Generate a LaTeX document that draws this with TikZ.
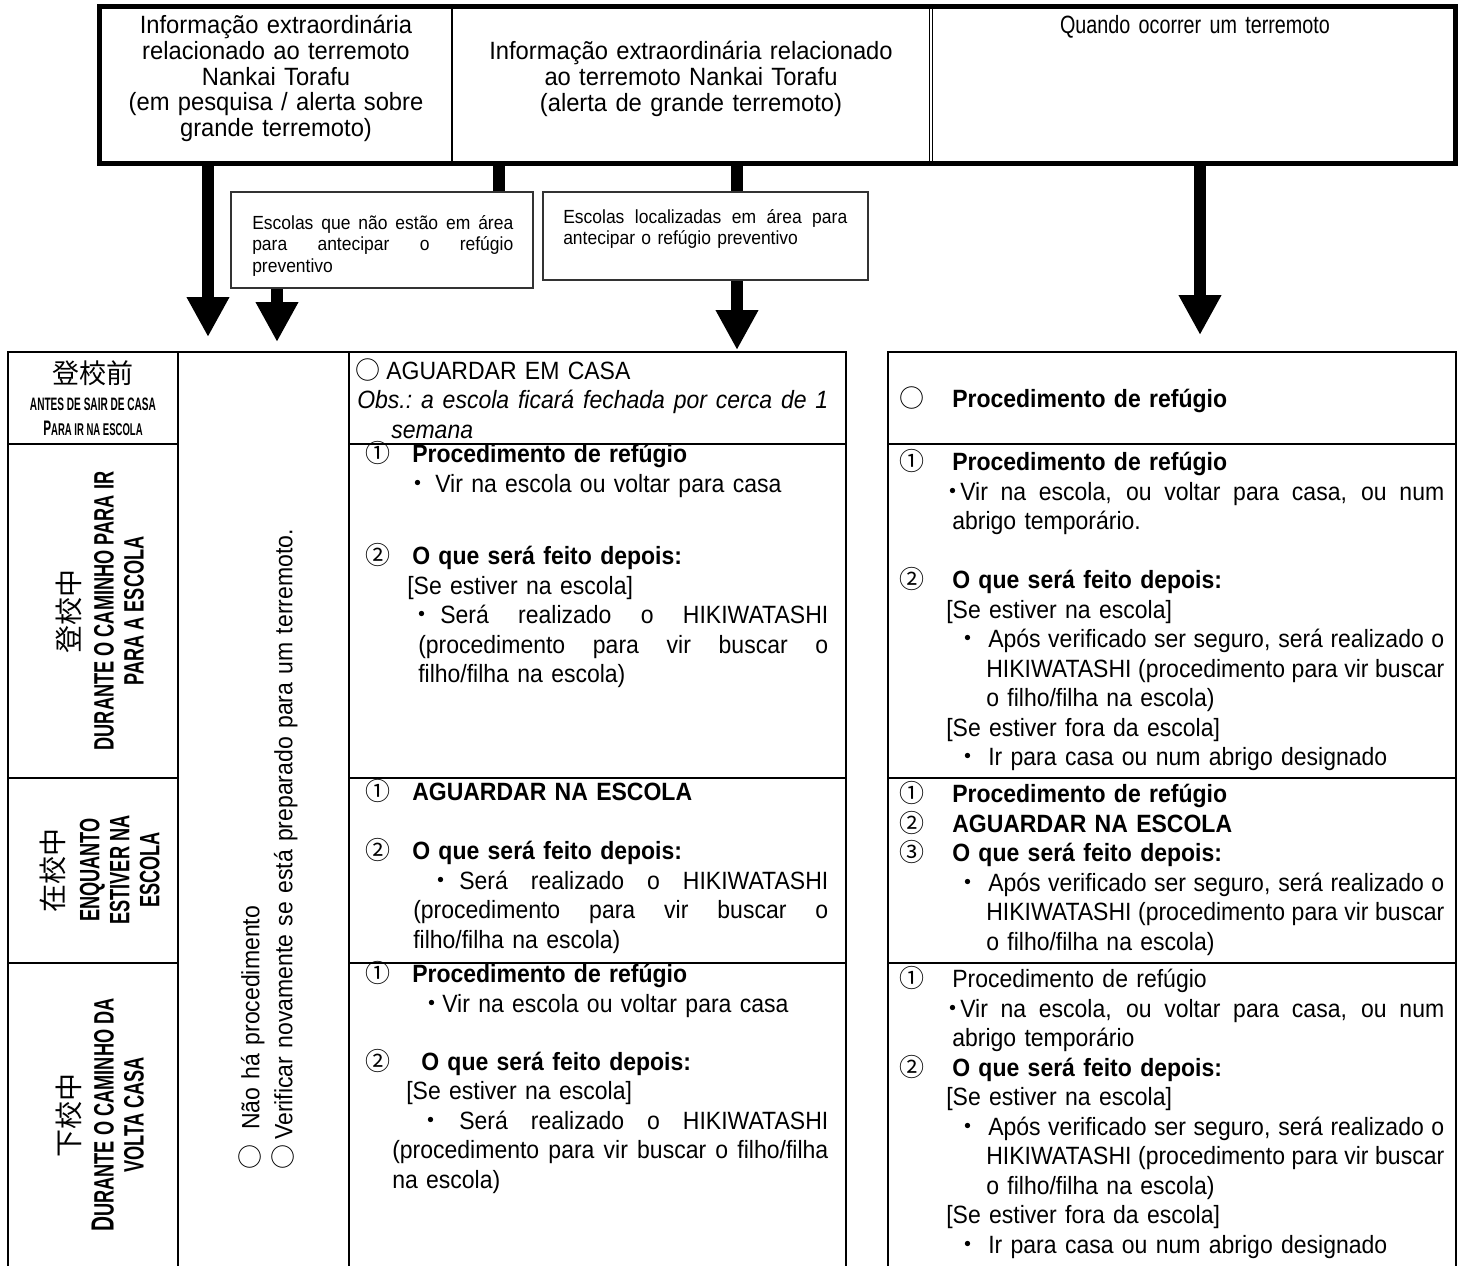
\documentclass[tikz,border=0pt]{standalone}
\usepackage{fontspec}
\setmainfont[FakeStretch=0.92]{Liberation Sans}
\newfontfamily\hdrfont[FakeStretch=0.95]{Liberation Sans}
\newfontfamily\hdrnarrow[FakeStretch=0.79]{Liberation Sans}
\newfontfamily\lblfont[FakeStretch=0.65]{Liberation Sans}
\newfontfamily\capfont[FakeStretch=0.56]{Liberation Sans}
\newfontfamily\cjk{Noto Sans CJK JP}
\usetikzlibrary{arrows.meta}
\usetikzlibrary{fit}
\usetikzlibrary{positioning}

\newlength\pxu
\setlength\pxu{0.75pt}
\setlength\parskip{0pt}
\setlength\parindent{0pt}

\newcommand\bodyfont{\fontsize{18.75pt}{22.125pt}\selectfont\lineskiplimit=-100pt\relax}
\newcommand\notefont{\fontsize{18.75pt}{24.75pt}\selectfont\lineskiplimit=-100pt\relax}
\newcommand\boxfont{\fontsize{14.25pt}{16.125pt}\selectfont\lineskiplimit=-100pt\relax}
\newcommand\hdrsize{\hdrfont\fontsize{18.75pt}{19.3pt}\selectfont\lineskiplimit=-100pt\relax}
\newcommand\lblsize{\lblfont\bfseries\fontsize{21pt}{22.5pt}\selectfont}
\newcommand\capsize{\capfont\bfseries\fontsize{13.5pt}{18.75pt}\selectfont}
% one line: ragged, centred, or stretched to the full width
\newcommand\lnL[2]{\noindent\hspace*{#1\pxu}{#2}\strut\par}
\newcommand\lnC[1]{\noindent\makebox[\hsize][c]{#1\strut}\par}
\newcommand\lnJ[2]{\noindent\hspace*{#1\pxu}\makebox[\dimexpr\hsize-#1\pxu\relax][s]{\spaceskip=\fontdimen2\font plus 1fil\xspaceskip=\spaceskip #2\strut}\par}
\newcommand\mk[2]{\makebox[#1\pxu][l]{\cjk\mdseries #2}}
\newcommand\gap[1]{\vskip #1\pxu}

\begin{document}
\begin{tikzpicture}[x=0.75pt,y=0.75pt,yscale=-1,xscale=1,
  hdrcell/.style={draw, line width=1pt, inner sep=0pt},
  hdrframe/.style={draw, line width=3.75pt, inner sep=0pt},
  tcell/.style={draw, line width=1.5pt, inner sep=0pt},
  notebox/.style={draw=black!80, line width=1.2pt, inner sep=0pt},
  txt/.style={anchor=north west, inner sep=0pt, font=\bodyfont},
  hdrtxt/.style={anchor=north, inner sep=0pt, font=\hdrsize},
  rowlbl/.style={rotate=90, align=center, inner sep=0pt, font=\lblsize},
  bigarrow/.style={line width=9pt, -{Triangle[length=30pt,width=30pt]}},
  stub/.style={line width=9pt}]
\useasboundingbox (0,0) rectangle (1463,1265);

%Header cells
\node[hdrcell, fit={(100,7) (452,163)}] (hdrA) {};
\node[hdrcell, fit={(452,7) (930,163)}] (hdrB) {};
\node[hdrcell, fit={(930,7) (1455,163)}] (hdrC) {};
\draw[double, line width=0.8pt, double distance=1.5pt] (hdrB.north east) -- (hdrB.south east);
\node[hdrframe, fit=(hdrA) (hdrC)] (hdr) {};

% Text Node
\node[hdrtxt, text width=255pt] (hdrAt) at (276,15) {%
  \lnC{Informação extraordinária}%
  \lnC{relacionado ao terremoto}%
  \lnC{Nankai Torafu}%
  \lnC{(em pesquisa / alerta sobre}%
  \lnC{grande terremoto)}};
% Text Node
\node[hdrtxt, text width=330pt] (hdrBt) at (691,41) {%
  \lnC{Informação extraordinária relacionado}%
  \lnC{ao terremoto Nankai Torafu}%
  \lnC{(alerta de grande terremoto)}};
% Text Node
\node[hdrtxt, text width=360pt] (hdrCt) at (1195,15) {%
  \lnC{\hdrnarrow Quando ocorrer um terremoto}};

%Boxes for the kind of school
\node[notebox, fit={(231,192) (533,288)}] (boxA) {};
\node[notebox, fit={(543,192) (868,280)}] (boxB) {};
\node[txt, font=\boxfont, text width=195.75pt] (boxAt) at (252,214) {%
  \lnJ{0}{Escolas que não estão em área}%
  \lnJ{0}{para antecipar o refúgio}%
  \lnL{0}{preventivo}};
\node[txt, font=\boxfont, text width=213pt] (boxBt) at (563,208) {%
  \lnJ{0}{Escolas localizadas em área para}%
  \lnL{0}{antecipar o refúgio preventivo}};

%Arrows
\coordinate (tA) at (208,337);
\coordinate (tB) at (277,342);
\coordinate (tC) at (737,350);
\coordinate (tD) at (1200,335);
\coordinate (jA) at (499,0);
\draw[stub] (hdrB.south -| jA) -- (boxA.north -| jA);
\draw[stub] (hdrB.south -| tC) -- (boxB.north -| tC);
\draw[bigarrow] (hdrA.south -| tA) -- (tA);
\draw[bigarrow] (boxA.south -| tB) -- (tB);
\draw[bigarrow] (boxB.south -| tC) -- (tC);
\draw[bigarrow] (hdrC.south -| tD) -- (tD);

%Left table
\node[tcell, fit={(8,352) (178,444)}] (lab1) {};
\node[tcell, fit={(8,444) (178,778)}] (lab2) {};
\node[tcell, fit={(8,778) (178,963)}] (lab3) {};
\node[tcell, fit={(8,963) (178,1275)}] (lab4) {};
\node[tcell, fit={(178,352) (349,1275)}] (note) {};
\node[tcell, fit={(349,352) (846,444)}] (mid1) {};
\node[tcell, fit={(349,444) (846,778)}] (mid2) {};
\node[tcell, fit={(349,778) (846,963)}] (mid3) {};
\node[tcell, fit={(349,963) (846,1275)}] (mid4) {};
%Right table
\node[tcell, fit={(888,352) (1456,444)}] (rgt1) {};
\node[tcell, fit={(888,444) (1456,778)}] (rgt2) {};
\node[tcell, fit={(888,778) (1456,963)}] (rgt3) {};
\node[tcell, fit={(888,963) (1456,1275)}] (rgt4) {};

% Row labels
\node[align=center, inner sep=0pt, font=\capsize] (lab1t) at (93,398) {{\cjk\mdseries\fontsize{20.25pt}{24pt}\selectfont 登校前}\\[2pt]ANTES DE SAIR DE CASA\\{\fontsize{15.75pt}{18.75pt}\selectfont P}{\fontsize{12.75pt}{18.75pt}\selectfont ARA IR NA ESCOLA}};
\node[rowlbl] (lab2t) at (100,611) {{\cjk\mdseries 登校中}\\[3pt]DURANTE O CAMINHO PARA IR\\PARA A ESCOLA};
\node[rowlbl] (lab3t) at (100,870) {{\cjk\mdseries 在校中}\\[4pt]ENQUANTO\\ESTIVER NA\\ESCOLA};
\node[rowlbl] (lab4t) at (100,1115) {{\cjk\mdseries 下校中}\\[3pt]{\fontsize{24pt}{22.5pt}\selectfont D}URANTE O CAMINHO DA\\VOLTA CASA};

% Text Node
\node[txt, rotate=90, font=\notefont, text width=700pt] (notet) at (236,1170) {%
  \lnL{0}{\mk{40}{○}Não há procedimento}%
  \lnL{0}{\mk{30}{○}Verificar novamente se está preparado para um terremoto.}};

% Text Node
\node[txt, text width=359.25pt] (mid1t) at (349,358.4) {%
  \lnL{6}{\mk{31}{○}AGUARDAR EM CASA}%
  \lnJ{8}{\itshape Obs.: a escola ficará fechada por cerca de 1}%
  \lnL{42}{\itshape semana}};
% Text Node
\node[txt, text width=359.25pt] (mid2t) at (349,441.4) {%
  \lnL{16}{\mk{47}{①}\textbf{Procedimento de refúgio}}%
  \lnL{56}{\mk{30}{・}Vir na escola ou voltar para casa}%
  \gap{43}%
  \lnL{16}{\mk{47}{②}\textbf{O que será feito depois:}}%
  \lnL{58}{[Se estiver na escola]}%
  \lnJ{60}{\mk{31}{・}Será realizado o HIKIWATASHI}%
  \lnJ{69}{(procedimento para vir buscar o}%
  \lnL{69}{filho/filha na escola)}};
% Text Node
\node[txt, text width=359.25pt] (mid3t) at (349,779.4) {%
  \lnL{16}{\mk{47}{①}\textbf{AGUARDAR NA ESCOLA}}%
  \gap{29.5}%
  \lnL{16}{\mk{47}{②}\textbf{O que será feito depois:}}%
  \lnJ{79}{\mk{31}{・}Será realizado o HIKIWATASHI}%
  \lnJ{64}{(procedimento para vir buscar o}%
  \lnL{64}{filho/filha na escola)}};
% Text Node
\node[txt, text width=359.25pt] (mid4t) at (349,961.4) {%
  \lnL{16}{\mk{47}{①}\textbf{Procedimento de refúgio}}%
  \lnL{70}{\mk{23}{・}Vir na escola ou voltar para casa}%
  \gap{28.5}%
  \lnL{16}{\mk{56}{②}\textbf{O que será feito depois:}}%
  \lnL{57}{[Se estiver na escola]}%
  \lnJ{69}{\mk{41}{・}Será realizado o HIKIWATASHI}%
  \lnJ{43}{(procedimento para vir buscar o filho/filha}%
  \lnL{43}{na escola)}};

% Text Node
\node[txt, text width=417pt] (rgt1t) at (888,386.4) {%
  \lnL{11}{\mk{53}{○}\textbf{Procedimento de refúgio}}};
% Text Node
\node[txt, text width=417pt] (rgt2t) at (888,449.4) {%
  \lnL{11}{\mk{53}{①}\textbf{Procedimento de refúgio}}%
  \lnJ{52}{\mk{20}{・}Vir na escola, ou voltar para casa, ou num}%
  \lnL{64}{abrigo temporário.}%
  \gap{29.5}%
  \lnL{11}{\mk{53}{②}\textbf{O que será feito depois:}}%
  \lnL{58}{[Se estiver na escola]}%
  \lnJ{67}{\mk{33}{・}Após verificado ser seguro, será realizado o}%
  \lnJ{98}{HIKIWATASHI (procedimento para vir buscar}%
  \lnL{98}{o filho/filha na escola)}%
  \lnL{58}{[Se estiver fora da escola]}%
  \lnL{67}{\mk{33}{・}Ir para casa ou num abrigo designado}};
% Text Node
\node[txt, text width=417pt] (rgt3t) at (888,781.4) {%
  \lnL{11}{\mk{53}{①}\textbf{Procedimento de refúgio}}%
  \lnL{11}{\mk{53}{②}\textbf{AGUARDAR NA ESCOLA}}%
  \lnL{11}{\mk{53}{③}\textbf{O que será feito depois:}}%
  \lnJ{67}{\mk{33}{・}Após verificado ser seguro, será realizado o}%
  \lnJ{98}{HIKIWATASHI (procedimento para vir buscar}%
  \lnL{98}{o filho/filha na escola)}};
% Text Node
\node[txt, text width=417pt] (rgt4t) at (888,966.4) {%
  \lnL{11}{\mk{53}{①}Procedimento de refúgio}%
  \lnJ{52}{\mk{20}{・}Vir na escola, ou voltar para casa, ou num}%
  \lnL{64}{abrigo temporário}%
  \lnL{11}{\mk{53}{②}\textbf{O que será feito depois:}}%
  \lnL{58}{[Se estiver na escola]}%
  \lnJ{67}{\mk{33}{・}Após verificado ser seguro, será realizado o}%
  \lnJ{98}{HIKIWATASHI (procedimento para vir buscar}%
  \lnL{98}{o filho/filha na escola)}%
  \lnL{58}{[Se estiver fora da escola]}%
  \lnL{67}{\mk{33}{・}Ir para casa ou num abrigo designado}};

\end{tikzpicture}
\end{document}
